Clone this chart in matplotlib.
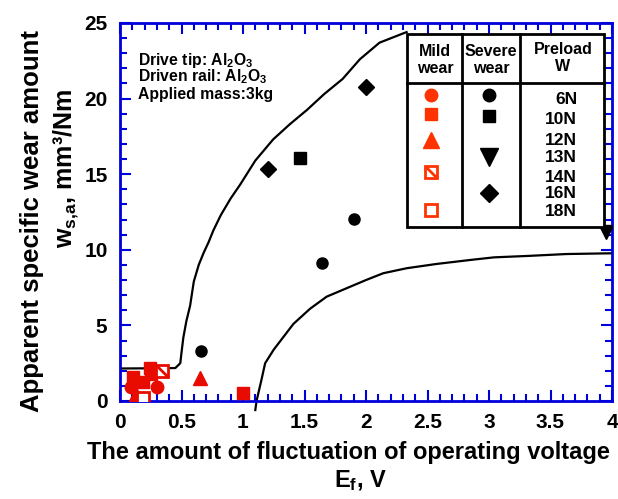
import matplotlib
matplotlib.use("Agg")
import matplotlib.pyplot as plt
from matplotlib.lines import Line2D
from matplotlib.path import Path
from matplotlib.ticker import MultipleLocator
import numpy as np

plt.rcParams['font.family'] = ['Liberation Sans', 'DejaVu Sans']
plt.rcParams['font.weight'] = 'bold'
plt.rcParams['mathtext.fontset'] = 'custom'
for k in ['rm', 'it', 'bf', 'sf']:
    plt.rcParams['mathtext.' + k] = 'Liberation Sans:bold'
plt.rcParams['mathtext.default'] = 'rm'

# ---------------- data ----------------
upper_x = [0, 0.2, 0.45, 0.49, 0.5, 0.515, 0.54, 0.57, 0.6, 0.64, 0.68, 0.72, 0.76,
           0.82, 0.9, 0.976, 1.1, 1.245, 1.38, 1.52, 1.66, 1.81, 1.95, 2.11, 2.33]
upper_y = [2.15, 2.16, 2.18, 2.5, 3.2, 4.2, 5.3, 6.3, 7.9, 9.0, 9.8, 10.5, 11.3,
           12.3, 13.4, 14.3, 15.9, 17.3, 18.3, 19.25, 20.3, 21.3, 22.6, 23.7, 24.4]
lower_x = [1.1, 1.11, 1.15, 1.18, 1.25, 1.33, 1.41, 1.545, 1.68, 1.84, 2.0, 2.14,
           2.33, 2.57, 2.85, 3.04, 3.33, 3.63, 4.0]
lower_y = [-0.6, 0.0, 1.4, 2.5, 3.4, 4.25, 5.1, 6.1, 6.9, 7.45, 8.0, 8.45,
           8.78, 9.06, 9.33, 9.5, 9.6, 9.72, 9.77]

# mild wear (red)
mild_6N_x = [0.09, 0.30]
mild_6N_y = [0.95, 0.95]
mild_10N_x = [0.105, 0.19, 0.25, 0.24, 1.0]
mild_10N_y = [1.6, 1.28, 1.8, 2.2, 0.5]
mild_12N_x = [0.13, 0.65]
mild_12N_y = [0.45, 1.55]
mild_14N_x = [0.34]
mild_14N_y = [2.0]
mild_18N_x = [0.19]
mild_18N_y = [0.22]

# severe wear (black)
sev_6N_x = [0.66, 1.64, 1.9]
sev_6N_y = [3.3, 9.1, 12.05]
sev_10N_x = [1.46]
sev_10N_y = [16.1]
sev_13N_x = [3.955]
sev_13N_y = [11.2]
sev_16N_x = [1.2, 2.0]
sev_16N_y = [15.35, 20.8]

preload_labels = ['6N', '10N', '12N', '13N', '14N', '16N', '18N']
xticks = [0, 0.5, 1, 1.5, 2, 2.5, 3, 3.5, 4]
xticklabels = ['0', '0.5', '1', '1.5', '2', '2.5', '3', '3.5', '4']
yticks = [0, 5, 10, 15, 20, 25]

# ---------------- figure ----------------
W, H = 618, 499
fig = plt.figure(figsize=(W / 100, H / 100), dpi=100)
L, R, T, B = 120, 612, 23, 401
ax = fig.add_axes([L / W, 1 - B / H, (R - L) / W, (B - T) / H])

RED = '#e80c00'
LRED = '#ff3300'
BLUE = '#0000dd'

ax.plot(upper_x, upper_y, color='black', lw=1.6, zorder=2)
ax.plot(lower_x, lower_y, color='black', lw=1.6, zorder=2, clip_on=False)

diag = Path([(-0.5, 0.5), (0.5, -0.5)], [Path.MOVETO, Path.LINETO])

ax.plot(mild_6N_x, mild_6N_y, 'o', color=RED, ms=9, zorder=3)
ax.plot(mild_10N_x, mild_10N_y, 's', color=RED, ms=9, zorder=3)
ax.plot(mild_12N_x, mild_12N_y, '^', color=RED, ms=10, zorder=3)
ax.plot(mild_14N_x, mild_14N_y, 's', mfc='white', mec=RED, mew=2, ms=9, zorder=3)
ax.plot(mild_14N_x, mild_14N_y, marker=diag, ls='none', mec=RED, mew=2, ms=9, zorder=3)
ax.plot(mild_18N_x, mild_18N_y, 's', mfc='white', mec=RED, mew=2, ms=9, zorder=4)

ax.plot(sev_6N_x, sev_6N_y, 'o', color='black', ms=8, zorder=3)
ax.plot(sev_10N_x, sev_10N_y, 's', color='black', ms=9, zorder=3)
ax.plot(sev_13N_x, sev_13N_y, 'v', color='black', ms=10, zorder=3)
ax.plot(sev_16N_x, sev_16N_y, 'D', color='black', ms=8, zorder=3)

ax.set_xlim(0, 4)
ax.set_ylim(0, 25)
ax.set_xticks(xticks)
ax.set_xticklabels(xticklabels)
ax.set_yticks(yticks)
ax.xaxis.set_minor_locator(MultipleLocator(0.1))
ax.yaxis.set_minor_locator(MultipleLocator(1))
ax.tick_params(which='both', direction='in', top=True, right=True, color=BLUE, width=1.5)
ax.tick_params(which='major', length=8, labelsize=15, pad=9)
ax.tick_params(which='minor', length=5)
for lab in ax.get_xticklabels() + ax.get_yticklabels():
    lab.set_fontweight('bold')
for s in ax.spines.values():
    s.set_color(BLUE)
    s.set_linewidth(2)

def fx(px):
    return px / W

def fy(py):
    return 1 - py / H

# axis labels
fig.text(fx(348), fy(452), 'The amount of fluctuation of operating voltage',
         ha='center', va='center', fontsize=17, fontweight='bold')
fig.text(fx(360), fy(481), r'E$_{\mathregular{f}}$, V', ha='center', va='center',
         fontsize=17, fontweight='bold')
fig.text(fx(32), fy(221), 'Apparent specific wear amount', rotation=90,
         ha='center', va='center', fontsize=18.5, fontweight='bold')
fig.text(fx(66), fy(168), r'w$_{s{,}a}$, mm³/Nm', rotation=90,
         ha='center', va='center', fontsize=18, fontweight='bold')

# annotation
for txt, py in [(r'Drive tip: Al$_2$O$_3$', 60), (r'Driven rail: Al$_2$O$_3$', 77),
                ('Applied mass:3kg', 95)]:
    fig.text(fx(138), fy(py), txt, ha='left', va='center', fontsize=11.3, fontweight='bold')

# legend table
x0, x1, x2, x3 = 407, 462, 520, 604
y0, y1, y2 = 34, 83, 227
rect = plt.Rectangle((fx(x0), fy(y2)), fx(x3) - fx(x0), fy(y0) - fy(y2),
                     transform=fig.transFigure, facecolor='white', edgecolor='black',
                     lw=2, zorder=5)
fig.add_artist(rect)
for xv in [x1, x2]:
    fig.add_artist(Line2D([fx(xv), fx(xv)], [fy(y0), fy(y2)], color='black', lw=2,
                          transform=fig.transFigure, zorder=6))
fig.add_artist(Line2D([fx(x0), fx(x3)], [fy(y1), fy(y1)], color='black', lw=2,
                      transform=fig.transFigure, zorder=6))
fig.text(fx(435), fy(60), 'Mild\nwear', ha='center', va='center', fontsize=11.5,
         fontweight='bold', linespacing=1.1, zorder=7)
fig.text(fx(491), fy(60), 'Severe\nwear', ha='center', va='center', fontsize=11.5,
         fontweight='bold', linespacing=1.1, zorder=7)
fig.text(fx(563), fy(58), 'Preload\nW', ha='center', va='center', fontsize=11.5,
         fontweight='bold', linespacing=1.1, zorder=7)
label_y = [100, 120, 140, 158, 177, 194, 212]
for lab, py in zip(preload_labels, label_y):
    fig.text(fx(577), fy(py), lab, ha='right', va='center', fontsize=12.5,
             fontweight='bold', zorder=7)

def lm(px, py, **kw):
    fig.add_artist(Line2D([fx(px)], [fy(py)], transform=fig.transFigure, ls='none',
                          zorder=7, **kw))

lm(431, 95, marker='o', color=LRED, ms=9)
lm(431, 114, marker='s', color=LRED, ms=9)
lm(431, 140, marker='^', color=LRED, ms=12)
lm(431, 172, marker='s', mfc='white', mec=LRED, mew=2, ms=8)
lm(431, 172, marker=diag, mec=LRED, mew=2, ms=8)
lm(431, 210, marker='s', mfc='white', mec=LRED, mew=2, ms=8)
lm(489, 95, marker='o', color='black', ms=9)
lm(489, 116, marker='s', color='black', ms=8)
lm(489, 157, marker='v', color='black', ms=13)
lm(489, 193, marker='D', color='black', ms=9)

fig.savefig('out.png', dpi=100)
